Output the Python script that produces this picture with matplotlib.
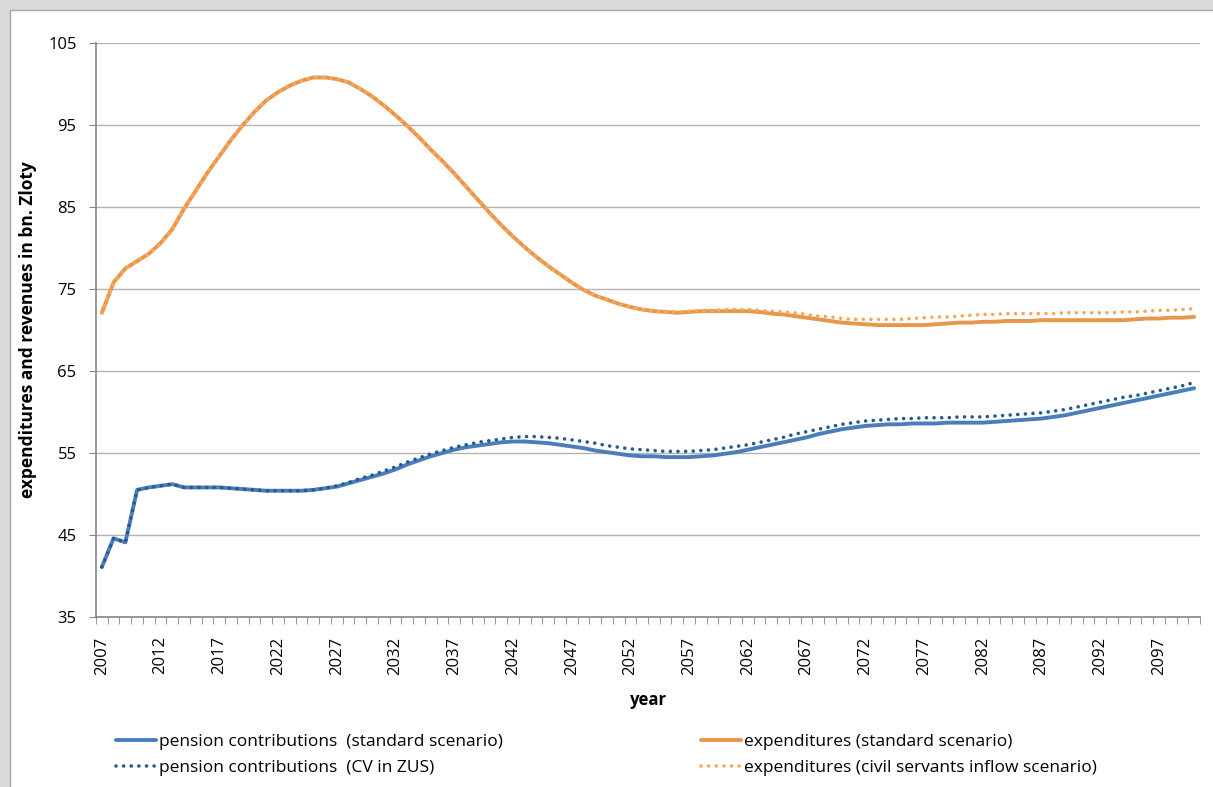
import numpy as np
import matplotlib
matplotlib.use('Agg')
import matplotlib.pyplot as plt
from matplotlib.patches import Rectangle

plt.rcParams['font.family'] = ['Open Sans', 'DejaVu Sans']

years = np.arange(2007, 2101)

# pension contributions (standard scenario)
contrib_std = [
    41.1, 44.6, 44.1, 50.5, 50.8, 51.0, 51.2, 50.8, 50.8, 50.8,
    50.8, 50.7, 50.6, 50.5, 50.4, 50.4, 50.4, 50.4, 50.5, 50.7,
    50.9, 51.3, 51.7, 52.1, 52.5, 53.0, 53.6, 54.1, 54.6, 55.0,
    55.4, 55.7, 55.9, 56.1, 56.3, 56.4, 56.4, 56.3, 56.2, 56.0,
    55.8, 55.6, 55.3, 55.1, 54.9, 54.7, 54.6, 54.6, 54.5, 54.5,
    54.5, 54.6, 54.7, 54.9, 55.1, 55.4, 55.7, 56.0, 56.3, 56.6,
    56.9, 57.3, 57.6, 57.9, 58.1, 58.3, 58.4, 58.5, 58.5, 58.6,
    58.6, 58.6, 58.7, 58.7, 58.7, 58.7, 58.8, 58.9, 59.0, 59.1,
    59.2, 59.4, 59.6, 59.9, 60.2, 60.5, 60.8, 61.1, 61.4, 61.7,
    62.0, 62.3, 62.6, 62.9,
]

# pension contributions (CV in ZUS)
contrib_cv = [
    41.1, 44.6, 44.1, 50.5, 50.8, 51.0, 51.2, 50.8, 50.8, 50.8,
    50.8, 50.7, 50.6, 50.5, 50.4, 50.4, 50.4, 50.4, 50.5, 50.7,
    51.0, 51.4, 51.9, 52.3, 52.8, 53.3, 53.9, 54.4, 54.9, 55.3,
    55.7, 56.0, 56.3, 56.5, 56.7, 56.9, 57.0, 57.0, 56.9, 56.8,
    56.6, 56.4, 56.2, 55.9, 55.7, 55.5, 55.4, 55.3, 55.2, 55.2,
    55.2, 55.3, 55.4, 55.6, 55.8, 56.0, 56.3, 56.6, 56.9, 57.3,
    57.6, 57.9, 58.2, 58.5, 58.7, 58.9, 59.0, 59.1, 59.2, 59.2,
    59.3, 59.3, 59.3, 59.4, 59.4, 59.4, 59.5, 59.6, 59.7, 59.8,
    59.9, 60.1, 60.3, 60.6, 60.9, 61.2, 61.5, 61.8, 62.0, 62.3,
    62.6, 62.9, 63.2, 63.6,
]

# expenditures (standard scenario)
exp_std = [
    72.1, 75.8, 77.5, 78.4, 79.3, 80.6, 82.3, 84.8, 87.0, 89.2,
    91.2, 93.2, 95.0, 96.6, 98.0, 99.0, 99.8, 100.4, 100.8, 100.8,
    100.6, 100.2, 99.4, 98.5, 97.4, 96.2, 94.9, 93.5, 92.0, 90.6,
    89.1, 87.5, 85.9, 84.3, 82.8, 81.4, 80.1, 78.9, 77.8, 76.8,
    75.8, 74.9, 74.2, 73.7, 73.2, 72.8, 72.5, 72.3, 72.2, 72.1,
    72.2, 72.3, 72.3, 72.3, 72.3, 72.3, 72.2, 72.0, 71.9, 71.7,
    71.5, 71.3, 71.1, 70.9, 70.8, 70.7, 70.6, 70.6, 70.6, 70.6,
    70.6, 70.7, 70.8, 70.9, 70.9, 71.0, 71.0, 71.1, 71.1, 71.1,
    71.2, 71.2, 71.2, 71.2, 71.2, 71.2, 71.2, 71.2, 71.3, 71.4,
    71.4, 71.5, 71.5, 71.6,
]

# expenditures (civil servants inflow scenario)
exp_cs = [
    72.1, 75.8, 77.5, 78.4, 79.3, 80.6, 82.3, 84.8, 87.0, 89.2,
    91.2, 93.2, 95.0, 96.6, 98.0, 99.0, 99.8, 100.4, 100.8, 100.8,
    100.6, 100.2, 99.4, 98.5, 97.4, 96.2, 94.9, 93.5, 92.0, 90.6,
    89.1, 87.5, 85.9, 84.3, 82.8, 81.4, 80.1, 78.9, 77.8, 76.8,
    75.8, 74.9, 74.2, 73.7, 73.2, 72.8, 72.5, 72.3, 72.2, 72.2,
    72.3, 72.4, 72.4, 72.5, 72.5, 72.5, 72.4, 72.3, 72.2, 72.1,
    71.9, 71.7, 71.6, 71.4, 71.3, 71.3, 71.3, 71.3, 71.3, 71.4,
    71.5, 71.6, 71.6, 71.7, 71.8, 71.9, 71.9, 72.0, 72.0, 72.0,
    72.0, 72.0, 72.1, 72.1, 72.1, 72.1, 72.1, 72.2, 72.2, 72.3,
    72.4, 72.4, 72.5, 72.6,
]

fig = plt.figure(figsize=(12.13, 7.87), dpi=100, facecolor='#d9d9d9')
fig.patches.append(Rectangle((10 / 1213, -0.01), 1.0, 1.01 - 10 / 787, transform=fig.transFigure,
                             facecolor='white', edgecolor='#a6a6a6', lw=1, zorder=-10))

ax = fig.add_axes([96 / 1213, 1 - 617 / 787, (1200 - 96) / 1213, (617 - 43) / 787])
ax.set_facecolor('white')

dots = (0, (0.01, 2.1))
l1, = ax.plot(years, contrib_std, color='#4a7ebb', lw=2.8, solid_capstyle='round', zorder=3)
l2, = ax.plot(years, contrib_cv, color='#245a8e', lw=2.6, ls=dots,
              dash_capstyle='round', zorder=4)
l3, = ax.plot(years, exp_std, color='#e8964a', lw=2.8, solid_capstyle='round', zorder=3)
l4, = ax.plot(years, exp_cs, color='#f9a75b', lw=2.6, ls=dots,
              dash_capstyle='round', zorder=4)

ax.set_xlim(2006.5, 2100.5)
ax.set_ylim(35, 105)
ax.set_yticks(np.arange(35, 106, 10))
ax.set_xticks(np.arange(2007, 2100, 5))
ax.set_xticks(np.arange(2006.5, 2101, 1), minor=True)
ax.tick_params(axis='x', which='major', length=0, pad=14, labelrotation=90, labelsize=12)
ax.tick_params(axis='x', which='minor', length=5, color='#868686', direction='out')
ax.tick_params(axis='y', length=5, color='#868686', labelsize=12, pad=9)

ax.grid(axis='y', color='#b3b3b3', lw=1)
ax.set_axisbelow(True)
for s in ['top', 'right']:
    ax.spines[s].set_visible(False)
for s in ['left', 'bottom']:
    ax.spines[s].set_color('#868686')
    ax.spines[s].set_linewidth(1.2)

ax.set_xlabel('year', fontsize=12, fontweight='bold', labelpad=12)
ax.set_ylabel('expenditures and revenues in bn. Zloty', fontsize=12.5, fontweight='bold', labelpad=8)

leg1 = fig.legend([l1, l2], ['pension contributions  (standard scenario)', 'pension contributions  (CV in ZUS)'],
                  loc='upper left', bbox_to_anchor=(100 / 1213, 1 - 718 / 787), frameon=False,
                  fontsize=12.5, handlelength=2.3, handletextpad=0.2, labelspacing=0.6)
leg2 = fig.legend([l3, l4], ['expenditures (standard scenario)', 'expenditures (civil servants inflow scenario)'],
                  loc='upper left', bbox_to_anchor=(685 / 1213, 1 - 718 / 787), frameon=False,
                  fontsize=12.5, handlelength=2.3, handletextpad=0.2, labelspacing=0.6)

fig.savefig('out.png', dpi=100, facecolor=fig.get_facecolor())
